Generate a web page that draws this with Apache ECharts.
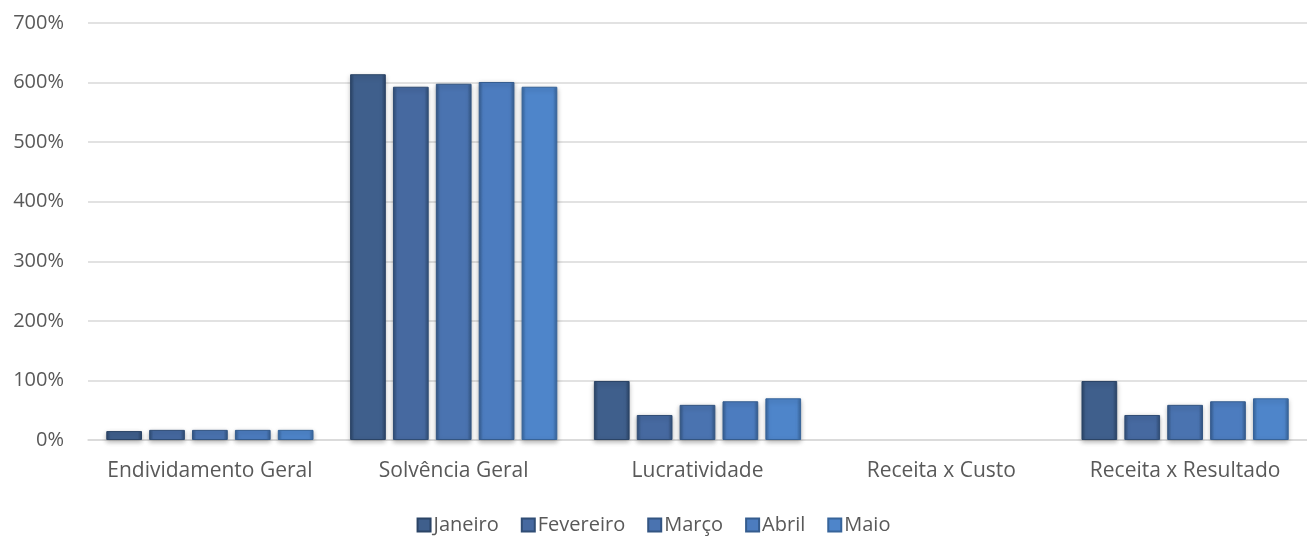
<!DOCTYPE html>
<html><head><meta charset="utf-8">
<script src="https://cdn.jsdelivr.net/npm/echarts@6/dist/echarts.min.js"></script>
<style>html,body{margin:0;padding:0;background:#fff}#c{width:1307px;height:536px}</style>
</head><body><div id="c"></div>
<script>
const categories = ['Endividamento Geral','Solvência Geral','Lucratividade','Receita x Custo','Receita x Resultado'];
const seriesNames = ['Janeiro','Fevereiro','Março','Abril','Maio'];
const janeiro   = [15, 614, 99, null, 99];
const fevereiro = [17, 593, 42, null, 42];
const marco     = [17, 598, 59, null, 59];
const abril     = [17, 601, 65, null, 65];
const maio      = [17, 593, 70, null, 70];
const values = [janeiro, fevereiro, marco, abril, maio];
const colors = ['#3f5f8c','#4669a0','#4a73b0','#4c7cbf','#4e85ca'];
const edges  = ['#2b4466','#304d75','#335582','#355c8e','#37649a'];

function grad(c, e){
  return new echarts.graphic.LinearGradient(0,0,1,0,[
    {offset:0,color:e},{offset:0.12,color:c},{offset:0.88,color:c},{offset:1,color:e}]);
}
const chart = echarts.init(document.getElementById('c'));
chart.setOption({
  animation:false,
  textStyle:{fontFamily:'"Open Sans", "Liberation Sans", sans-serif'},
  grid:{left:88,right:0,top:23,bottom:96},
  legend:{top:510,left:'center',icon:'rect',itemWidth:13,itemHeight:13,itemGap:22,
    textStyle:{color:'#595959',fontSize:20,padding:[0,0,0,-2]},data:seriesNames},
  xAxis:{type:'category',data:categories,
    axisLine:{lineStyle:{color:'#d9d9d9',width:1.5}},axisTick:{show:false},
    axisLabel:{color:'#595959',fontSize:21,margin:21,interval:0}},
  yAxis:{type:'value',min:0,max:700,interval:100,
    axisLabel:{color:'#595959',fontSize:20,formatter:'{value}%',margin:24},
    axisLine:{show:false},axisTick:{show:false},
    splitLine:{lineStyle:{color:'#d9d9d9',width:1.5}}},
  series: seriesNames.map((n,i)=>({
    name:n,type:'bar',data:values[i],barGap:'20%',barCategoryGap:'15%',
    itemStyle:{color:grad(colors[i],edges[i]),borderColor:edges[i],borderWidth:1,
      shadowColor:'rgba(0,0,0,0.3)',shadowBlur:5,shadowOffsetY:2}
  }))
});
</script></body></html>
